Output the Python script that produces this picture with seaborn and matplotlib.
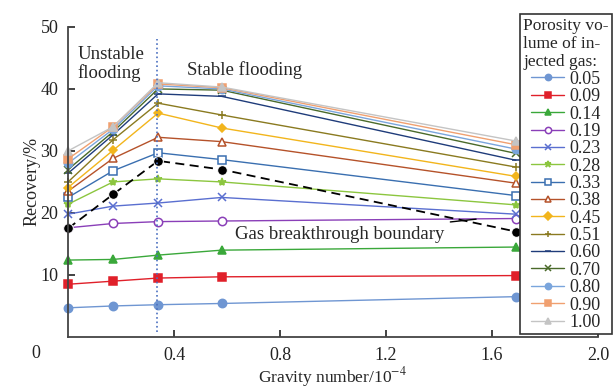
import numpy as np
import pandas as pd
import matplotlib
matplotlib.use("Agg")
import matplotlib.pyplot as plt
import seaborn as sns

# Gravity number (x 10^-4) for the five runs
gravity = [0.0, 0.17, 0.34, 0.58, 1.69]

# Recovery (%) per injected gas volume (pore volumes)
volumes = ["0.05", "0.09", "0.14", "0.19", "0.23", "0.28", "0.33", "0.38",
           "0.45", "0.51", "0.60", "0.70", "0.80", "0.90", "1.00"]
recovery = {
    "0.05": [4.7, 5.0, 5.2, 5.4, 6.5],
    "0.09": [8.5, 9.0, 9.5, 9.7, 9.9],
    "0.14": [12.4, 12.5, 13.2, 14.0, 14.5],
    "0.19": [17.6, 18.3, 18.6, 18.7, 19.1],
    "0.23": [19.8, 21.1, 21.6, 22.5, 19.8],
    "0.28": [21.4, 25.0, 25.5, 25.0, 21.3],
    "0.33": [22.5, 26.8, 29.7, 28.6, 22.8],
    "0.38": [23.5, 28.8, 32.2, 31.5, 24.8],
    "0.45": [24.1, 30.1, 36.1, 33.7, 25.9],
    "0.51": [25.0, 31.8, 37.7, 35.8, 27.4],
    "0.60": [26.4, 32.6, 39.2, 38.8, 28.5],
    "0.70": [27.0, 33.1, 40.0, 39.8, 29.6],
    "0.80": [28.0, 33.5, 40.5, 40.0, 30.3],
    "0.90": [28.7, 33.9, 40.8, 40.2, 31.0],
    "1.00": [30.0, 33.9, 41.0, 40.3, 31.6],
}
# gas breakthrough boundary
breakthrough = [17.5, 23.0, 28.4, 27.0, 17.0]

colors = ["#6f96d2", "#e0202a", "#3aa83a", "#8a3fb8", "#5a6fd0", "#8cc63f",
          "#3a6fb0", "#b5522a", "#f2b51c", "#8a7a20", "#1f3c7a", "#4a6a2a",
          "#7aa5dc", "#f0a070", "#c4c4c4"]
markers = ["o", "s", "^", "o", "x", "*", "s", "^", "D", "+", "_", "x", "o", "s", "^"]
hollow = ["0.19", "0.33", "0.38"]

sns.set_style("ticks")
plt.rcParams["font.family"] = ["Liberation Serif", "DejaVu Serif"]
plt.rcParams["mathtext.fontset"] = "stix"

fig = plt.figure(figsize=(6.13, 3.90), dpi=100)
ax = fig.add_axes([0.111, 0.136, 0.8645, 0.795])

for vol, col, mk in zip(volumes, colors, markers):
    df = pd.DataFrame({"x": gravity, "y": recovery[vol]})
    face = "white" if vol in hollow else col
    sns.lineplot(data=df, x="x", y="y", ax=ax, color=col, marker=mk,
                 markersize=6 if mk not in ["D"] else 4.5, markerfacecolor=face,
                 markeredgecolor=col, markeredgewidth=1.1, linewidth=1.0,
                 label=vol, clip_on=False)

bdf = pd.DataFrame({"x": gravity, "y": breakthrough})
sns.lineplot(data=bdf, x="x", y="y", ax=ax, color="black", marker="o",
             markersize=7, linestyle=(0, (5, 3)), linewidth=1.3,
             clip_on=False, legend=False)

ax.axvline(0.336, ymin=0.016, ymax=0.96, color="#4a6fc0", linestyle=":", linewidth=1.2)

ax.set_xlim(0, 2.0)
ax.set_ylim(0, 50)
ax.set_xticks([0.4, 0.8, 1.2, 1.6, 2.0])
ax.set_xticklabels(["0.4", "0.8", "1.2", "1.6", "2.0"])
ax.set_yticks([10, 20, 30, 40, 50])
ax.tick_params(direction="in", labelsize=13, length=5, width=1.2, pad=7, colors="#222222")
ax.text(-0.06, -0.052, "0", transform=ax.transAxes, fontsize=13, ha="center", va="center",
        color="#222222")
for s in ["top", "right"]:
    ax.spines[s].set_visible(False)
for s in ["left", "bottom"]:
    ax.spines[s].set_linewidth(1.3)
    ax.spines[s].set_color("#444444")

ax.set_xlabel("Gravity number/10$^{-4}$", fontsize=12.5, labelpad=1)
ax.set_ylabel("Recovery/%", fontsize=13, labelpad=0)

ax.text(0.035, 47.0, "Unstable\nflooding", fontsize=13.5, ha="left", va="top",
        linespacing=1.15)
ax.text(0.45, 43.0, "Stable flooding", fontsize=13.5, ha="left", va="center")
ax.annotate("Gas breakthrough boundary", xy=(1.54, 19.0), xytext=(1.42, 16.6),
            fontsize=13.5, ha="right", va="center",
            arrowprops=dict(arrowstyle="-", color="black", lw=1.0, shrinkA=2, shrinkB=0))

leg = ax.legend(title="Porosity vo-\nlume of in-\njected gas:", loc="upper right",
                bbox_to_anchor=(0.999, 0.964), bbox_transform=fig.transFigure,
                borderaxespad=0, fontsize=13, title_fontsize=12.5, labelspacing=0.02,
                handlelength=1.8, handletextpad=0.3, borderpad=0.2, frameon=True,
                fancybox=False, edgecolor="#333333", framealpha=1)
leg.get_frame().set_linewidth(1.2)
leg._legend_box.align = "center"
for line in leg.get_lines():
    line.set_markersize(4.5)

fig.savefig("out.png", dpi=100)
